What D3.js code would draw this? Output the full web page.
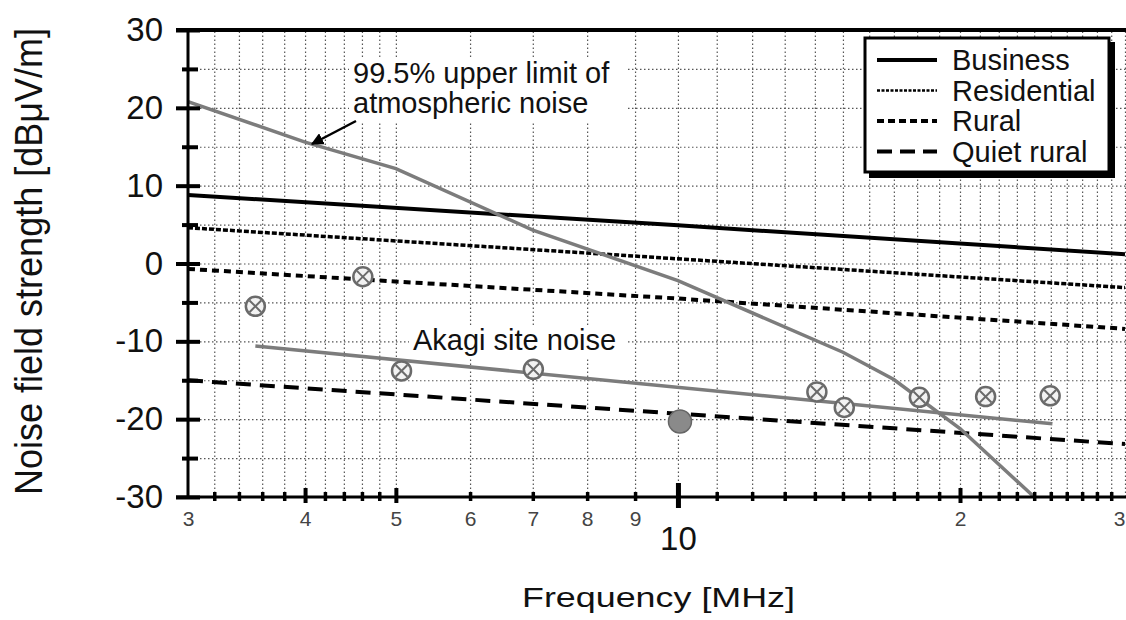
<!DOCTYPE html>
<html>
<head>
<meta charset="utf-8">
<script src="https://cdn.jsdelivr.net/npm/d3@7"></script>
<style>
  html, body { margin: 0; padding: 0; background: #fff; }
  svg { display: block; }
  text { font-family: "Liberation Sans", Arial, Helvetica, sans-serif; }
</style>
</head>
<body>
<svg id="chart" width="1126" height="620"></svg>
<script>
// ---------------- data ----------------
const freqDomain = [3, 30];
const fieldDomain = [-30, 30];

const minorFreqTicks = [3.2, 3.4, 3.6, 3.8, 4.2, 4.4, 4.6, 4.8, 6, 7, 8, 9,
  11, 12, 13, 14, 15, 16, 17, 18, 19, 21, 22, 23, 24, 25, 26, 27, 28, 29];
const midFreqTicks = [4, 5, 20];
const majorFreqTicks = [10];
const gridFreqs = [3.2, 3.4, 3.6, 3.8, 4, 4.2, 4.4, 4.6, 4.8, 5, 6, 7, 8, 9, 10,
  11, 12, 13, 14, 15, 16, 17, 18, 19, 20, 21, 22, 23, 24, 25, 26, 27, 28, 29, 30];

const smallLabelFreqs = [3, 4, 5, 6, 7, 8, 9, 20];
const smallLabelTexts = ["3", "4", "5", "6", "7", "8", "9", "2"];
const edgeLabelFreqs = [30];
const edgeLabelTexts = ["3"];
const bigLabelFreqs = [10];
const bigLabelTexts = ["10"];

const yMajorTicks = [-30, -20, -10, 0, 10, 20, 30];
const yMinorTicks = [-25, -15, -5, 5, 15, 25];
const yGridVals = [-25, -20, -15, -10, -5, 0, 5, 10, 15, 20, 25];

// man-made noise (straight lines on log frequency)
const manMadeFreq = [3, 10, 30];
const businessVals = [8.8, 4.9, 1.2];
const residentialVals = [4.6, 0.6, -3.1];
const ruralVals = [-0.7, -4.5, -8.4];
const quietRuralVals = [-15.0, -19.3, -23.2];

const seriesNames = ["Business", "Residential", "Rural", "Quiet rural"];

// 99.5% upper limit of atmospheric noise
const atmFreq = [3, 4, 5, 7, 10, 15, 17, 20, 24];
const atmVals = [20.8, 15.6, 12.2, 4.3, -2.2, -11.4, -14.9, -21.2, -30];

// Akagi site noise
const akagiLineFreq = [3.54, 25.1];
const akagiLineVals = [-10.6, -20.6];
const akagiFreq = [3.54, 4.61, 5.07, 7.01, 14.07, 15.05, 18.1, 21.3, 24.96];
const akagiVals = [-5.5, -1.7, -13.8, -13.6, -16.5, -18.5, -17.2, -17.1, -17.0];
const akagiFilledFreq = [10.05];
const akagiFilledVals = [-20.3];

// ---------------- chart ----------------
const svg = d3.select("#chart");
const L = 188, R = 1125, T = 30, B = 497;
const FONT = "'Liberation Sans', Arial, sans-serif";

const x = d3.scaleLog().domain(freqDomain).range([L, R]);
const y = d3.scaleLinear().domain(fieldDomain).range([B, T]);

svg.append("defs").append("clipPath").attr("id", "plotclip")
  .append("rect").attr("x", L).attr("y", T).attr("width", R - L + 2).attr("height", B - T);

// grid
const gridColor = "#555";
svg.append("g")
  .attr("transform", `translate(0,${B})`)
  .call(d3.axisBottom(x).tickValues(gridFreqs).tickSize(-(B - T)).tickFormat(""))
  .call(g => g.select(".domain").remove())
  .call(g => g.selectAll("line").attr("stroke", gridColor).attr("stroke-width", 1.2)
    .attr("stroke-dasharray", "1.5,2.5"));

svg.append("g")
  .attr("transform", `translate(${L},0)`)
  .call(d3.axisLeft(y).tickValues(yGridVals).tickSize(-(R - L + 2)).tickFormat(""))
  .call(g => g.select(".domain").remove())
  .call(g => g.selectAll("line").attr("stroke", gridColor).attr("stroke-width", 1.2)
    .attr("stroke-dasharray", "1.5,2.5"));

// label halos (white background behind annotation text)
svg.append("rect").attr("x", 349).attr("y", 57).attr("width", 278).attr("height", 64).attr("fill", "#fff");
svg.append("rect").attr("x", 409).attr("y", 325).attr("width", 218).attr("height", 32).attr("fill", "#fff");

// lines
const line = d3.line().x(d => x(d[0])).y(d => y(d[1]));
const plot = svg.append("g").attr("clip-path", "url(#plotclip)");

const styles = [
  { vals: businessVals, dash: null, w: 4 },
  { vals: residentialVals, dash: "5,2", w: 3.5 },
  { vals: ruralVals, dash: "7,5", w: 4 },
  { vals: quietRuralVals, dash: "15,9", w: 4 }
];
styles.forEach(s => {
  plot.append("path")
    .attr("d", line(d3.zip(manMadeFreq, s.vals)))
    .attr("fill", "none").attr("stroke", "#000").attr("stroke-width", s.w)
    .attr("stroke-dasharray", s.dash);
});

const grayLine = "#7c7c7c";
plot.append("path")
  .attr("d", line(d3.zip(akagiLineFreq, akagiLineVals)))
  .attr("fill", "none").attr("stroke", grayLine).attr("stroke-width", 3.5);
plot.append("path")
  .attr("d", line(d3.zip(atmFreq, atmVals)))
  .attr("fill", "none").attr("stroke", grayLine).attr("stroke-width", 3.5);

// markers
const mk = svg.append("g");
d3.zip(akagiFreq, akagiVals).forEach(([f, v]) => {
  const cx = x(f), cy = y(v), r = 9.5, k = r * 0.62;
  const g = mk.append("g");
  g.append("circle").attr("cx", cx).attr("cy", cy).attr("r", r)
    .attr("fill", "#f2f2f2").attr("stroke", "#6a6a6a").attr("stroke-width", 2.5);
  g.append("line").attr("x1", cx - k).attr("y1", cy - k).attr("x2", cx + k).attr("y2", cy + k)
    .attr("stroke", "#6a6a6a").attr("stroke-width", 2);
  g.append("line").attr("x1", cx - k).attr("y1", cy + k).attr("x2", cx + k).attr("y2", cy - k)
    .attr("stroke", "#6a6a6a").attr("stroke-width", 2);
});
d3.zip(akagiFilledFreq, akagiFilledVals).forEach(([f, v]) => {
  mk.append("circle").attr("cx", x(f)).attr("cy", y(v)).attr("r", 11.5)
    .attr("fill", "#8a8a8a").attr("stroke", "#666").attr("stroke-width", 1.5);
});

// axes
svg.append("line").attr("x1", L).attr("x2", L).attr("y1", T - 2).attr("y2", B + 2)
  .attr("stroke", "#000").attr("stroke-width", 3);
svg.append("line").attr("x1", 176).attr("x2", 1126).attr("y1", T).attr("y2", T)
  .attr("stroke", "#000").attr("stroke-width", 4);
svg.append("line").attr("x1", 176).attr("x2", 1126).attr("y1", B).attr("y2", B)
  .attr("stroke", "#000").attr("stroke-width", 3);

// y major ticks + labels (plain hyphen for negatives, as in the reference)
svg.append("g")
  .attr("transform", `translate(${L},0)`)
  .call(d3.axisLeft(y).tickValues(yMajorTicks).tickSize(12).tickPadding(14).tickFormat(d => String(d)))
  .call(g => g.select(".domain").remove())
  .call(g => g.selectAll(".tick line").attr("x1", 12).attr("stroke", "#000").attr("stroke-width", 4))
  .call(g => g.selectAll(".tick text").attr("font-size", 33).attr("fill", "#111")
    .attr("font-family", FONT).attr("x", -25));

svg.append("g")
  .attr("transform", `translate(${L},0)`)
  .call(d3.axisLeft(y).tickValues(yMinorTicks).tickSize(6).tickFormat(""))
  .call(g => g.select(".domain").remove())
  .call(g => g.selectAll(".tick line").attr("x1", 10).attr("stroke", "#000").attr("stroke-width", 4));

// x ticks
function xTicks(vals, up, down, w) {
  svg.append("g")
    .attr("transform", `translate(0,${B})`)
    .call(d3.axisBottom(x).tickValues(vals).tickSize(down).tickFormat(""))
    .call(g => g.select(".domain").remove())
    .call(g => g.selectAll(".tick line").attr("y1", -up).attr("stroke", "#000").attr("stroke-width", w));
}
xTicks(minorFreqTicks, 5, 4, 3.5);
xTicks(midFreqTicks, 9, 6, 4);
xTicks(majorFreqTicks, 14, 11, 5);

// x labels
function xLabels(vals, texts, pad, size, color, anchor) {
  svg.append("g")
    .attr("transform", `translate(0,${B})`)
    .call(d3.axisBottom(x).tickValues(vals).tickSize(0).tickPadding(pad)
      .tickFormat((d, i) => texts[i]))
    .call(g => g.select(".domain").remove())
    .call(g => g.selectAll(".tick text").attr("font-size", size).attr("fill", color)
      .attr("font-family", FONT).attr("text-anchor", anchor));
}
xLabels(smallLabelFreqs, smallLabelTexts, 14, 21, "#444", "middle");
xLabels(edgeLabelFreqs, edgeLabelTexts, 14, 21, "#444", "end");
xLabels(bigLabelFreqs, bigLabelTexts, 30, 33, "#111", "middle");

// axis titles
svg.append("text").attr("x", 522).attr("y", 607)
  .attr("font-size", 27).attr("fill", "#111")
  .attr("textLength", 273).attr("lengthAdjust", "spacingAndGlyphs")
  .text("Frequency [MHz]");
svg.append("text")
  .attr("transform", "translate(42,495) rotate(-90)")
  .attr("font-size", 38).attr("fill", "#111")
  .attr("textLength", 467).attr("lengthAdjust", "spacingAndGlyphs")
  .text("Noise field strength [dBμV/m]");

// annotations
svg.append("text").attr("x", 353).attr("y", 83).attr("font-size", 29).attr("fill", "#111")
  .text("99.5% upper limit of");
svg.append("text").attr("x", 353).attr("y", 113).attr("font-size", 29).attr("fill", "#111")
  .text("atmospheric noise");
svg.append("text").attr("x", 413).attr("y", 350).attr("font-size", 29).attr("fill", "#111")
  .text("Akagi site noise");

// arrow
svg.append("defs").append("marker").attr("id", "arrow")
  .attr("viewBox", "0 0 10 10").attr("refX", 9).attr("refY", 5)
  .attr("markerWidth", 5).attr("markerHeight", 5).attr("orient", "auto")
  .attr("markerUnits", "strokeWidth")
  .append("path").attr("d", "M0,0 L10,5 L0,10 z").attr("fill", "#000");
svg.append("line").attr("x1", 356).attr("y1", 121).attr("x2", 312).attr("y2", 144)
  .attr("stroke", "#000").attr("stroke-width", 2.5).attr("marker-end", "url(#arrow)");

// legend
const lg = svg.append("g");
lg.append("rect").attr("x", 869).attr("y", 42).attr("width", 246).attr("height", 136).attr("fill", "#000");
lg.append("rect").attr("x", 865).attr("y", 38).attr("width", 244).attr("height", 134)
  .attr("fill", "#fff").attr("stroke", "#000").attr("stroke-width", 3);
const legendDash = [null, "3,1.5", "7,4", "15,8"];
const legendW = [4, 2.5, 4, 4];
seriesNames.forEach((name, i) => {
  const yy = 60 + i * 30.5;
  lg.append("line").attr("x1", 877).attr("x2", 937).attr("y1", yy).attr("y2", yy)
    .attr("stroke", "#000").attr("stroke-width", legendW[i]).attr("stroke-dasharray", legendDash[i]);
  lg.append("text").attr("x", 952).attr("y", yy + 10).attr("font-size", 29).attr("fill", "#111").text(name);
});
</script>
</body>
</html>
